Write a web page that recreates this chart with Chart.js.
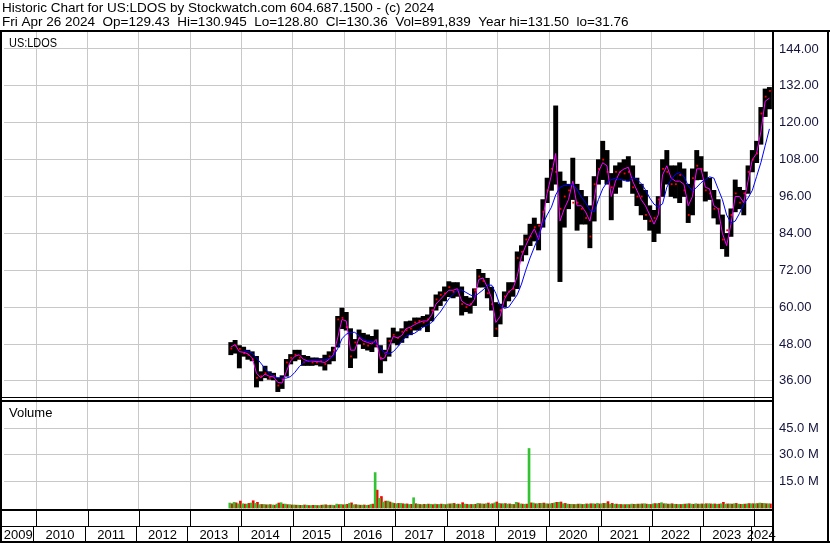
<!DOCTYPE html>
<html>
<head>
<meta charset="utf-8">
<script src="https://cdn.jsdelivr.net/npm/chart.js@4.4.1/dist/chart.umd.min.js"></script>
<style>
  html, body { margin: 0; padding: 0; background: #fff; overflow: hidden; }
  #wrap { position: relative; width: 830px; height: 543px; }
</style>
</head>
<body>
<div id="wrap"><canvas id="chart" width="830" height="543"></canvas></div>
<script>
// ==============================
// data (monthly, Oct 2013 .. Apr 2024)
// ==============================
const headerLines = [
  "Historic Chart for US:LDOS by Stockwatch.com 604.687.1500 - (c) 2024",
  "Fri Apr 26 2024  Op=129.43  Hi=130.945  Lo=128.80  Cl=130.36  Vol=891,839  Year hi=131.50  lo=31.76",
];
const symbolLabel = "US:LDOS";
const volumeLabel = "Volume";

const firstYear = 2013;
const firstMonth = 10; // October 2013

const yearLabels = ["2009", "2010", "2011", "2012", "2013", "2014", "2015", "2016",
  "2017", "2018", "2019", "2020", "2021", "2022", "2023", "2024"];
const priceTicks = [36, 42, 48, 54, 60, 66, 72, 78, 84, 90, 96, 102, 108, 114, 120, 126, 132, 138, 144];
const volumeTicks = [15, 30, 45];

const high = [
  48.5, 49.2, 47.5,
  47.0, 46.0, 45.5, 44.0, 39.0, 40.8, 39.0, 38.5, 37.0, 37.7, 43.0, 44.6,
  46.0, 46.0, 44.3, 44.0, 43.5, 43.5, 43.3, 44.4, 45.5, 47.0, 57.0, 59.7,
  58.3, 53.0, 49.5, 52.6, 51.5, 51.0, 50.5, 52.6, 47.5, 46.0, 50.0, 53.2,
  52.0, 53.0, 55.3, 55.5, 56.5, 56.5, 57.0, 57.5, 60.0, 64.0, 65.0, 66.6,
  68.3, 68.0, 68.0, 66.6, 63.5, 63.0, 66.0, 72.3, 71.0, 69.4, 66.5, 61.5,
  61.0, 65.0, 68.0, 68.0, 78.0, 80.0, 83.5, 87.0, 89.0, 87.0, 95.0, 102.0,
  108.0, 125.5, 104.0, 101.0, 100.0, 108.5, 100.0, 98.0, 96.0, 93.0, 102.5, 108.0,
  114.0, 111.0, 103.5, 106.0, 107.0, 108.0, 109.0, 106.0, 102.0, 100.0, 98.0, 93.0,
  91.5, 96.0, 108.0, 111.0, 106.0, 106.0, 107.0, 105.0, 100.0, 105.0, 111.0, 109.0,
  104.0, 102.0, 98.0, 95.0, 90.0, 84.0, 92.0, 101.4, 99.0, 98.0, 106.0, 111.0,
  114.0, 125.0, 131.0, 131.5,
];
const low = [
  44.5, 45.0, 40.2,
  44.0, 43.0, 42.5, 34.0, 36.0, 37.0, 36.5, 36.3, 32.5, 33.5, 37.5, 41.5,
  42.5, 43.0, 41.0, 41.0, 41.0, 41.2, 40.8, 39.5, 41.5, 42.5, 47.0, 53.0,
  52.5, 40.3, 43.4, 48.0, 46.5, 46.0, 45.5, 47.0, 38.6, 42.5, 44.0, 48.3,
  47.7, 48.5, 50.0, 51.0, 52.5, 52.5, 53.6, 52.0, 55.5, 59.0, 60.5, 62.0,
  63.4, 63.0, 63.5, 57.4, 58.5, 58.0, 60.5, 66.5, 66.5, 63.0, 59.0, 50.4,
  54.5, 60.0, 62.0, 63.5, 66.0, 75.0, 77.0, 80.0, 81.5, 78.6, 86.0, 94.0,
  98.0, 100.0, 68.3, 86.0, 92.0, 95.0, 85.0, 87.0, 87.0, 79.3, 88.0, 100.0,
  101.5, 100.0, 88.4, 97.0, 99.0, 101.5, 101.0, 97.0, 93.0, 90.0, 88.5, 85.0,
  81.3, 84.0, 96.0, 100.0, 96.0, 95.5, 94.0, 96.0, 87.5, 90.0, 101.4, 101.5,
  94.5, 95.0, 89.0, 87.0, 79.0, 76.5, 83.0, 91.0, 92.0, 90.0, 97.0, 104.0,
  107.0, 113.0, 122.0, 124.5,
];
// month-end close (red tick)
const close = [
  46.5, 47.5, 46.4,
  45.0, 44.5, 43.0, 37.0, 37.5, 38.5, 37.0, 37.5, 34.5, 36.5, 42.0, 43.5,
  44.5, 43.5, 42.0, 42.5, 42.0, 42.0, 42.5, 41.5, 44.0, 46.0, 56.0, 56.5,
  53.5, 44.0, 48.5, 50.0, 48.0, 47.5, 48.5, 47.5, 43.5, 45.0, 49.0, 51.0,
  50.0, 52.0, 52.5, 53.0, 55.0, 55.5, 55.0, 56.0, 59.0, 62.5, 64.0, 64.5,
  66.5, 65.0, 65.5, 61.0, 60.0, 61.0, 65.5, 70.0, 68.5, 64.5, 61.0, 53.0,
  59.0, 63.5, 65.0, 66.0, 76.0, 78.0, 82.0, 83.0, 86.0, 86.5, 91.0, 98.0,
  105.0, 104.0, 92.0, 96.0, 98.0, 94.0, 94.0, 92.0, 89.0, 83.0, 100.0, 105.0,
  108.0, 104.0, 99.0, 104.0, 104.0, 103.5, 104.0, 99.0, 96.0, 96.0, 90.0, 88.0,
  89.0, 95.0, 105.0, 104.0, 100.0, 100.0, 103.0, 98.0, 90.0, 102.0, 106.0, 105.0,
  98.0, 97.0, 92.0, 92.0, 82.0, 85.0, 90.0, 97.0, 94.0, 97.0, 104.0, 108.0,
  110.0, 123.0, 128.5, 130.36,
];
const maShort = [
  47.0, 47.8, 45.5,
  45.3, 44.8, 43.5, 38.5, 37.0, 38.2, 37.5, 37.3, 35.5, 35.3, 39.0, 42.5,
  44.0, 44.5, 43.0, 42.5, 42.5, 42.3, 42.2, 42.0, 43.0, 44.5, 50.0, 56.0,
  55.5, 46.0, 46.0, 50.0, 49.0, 48.5, 48.0, 49.5, 43.0, 43.5, 47.0, 50.5,
  50.0, 50.8, 53.0, 53.5, 54.3, 55.0, 55.5, 55.5, 57.5, 61.0, 62.5, 64.0,
  65.5, 65.5, 66.0, 62.0, 61.0, 60.5, 62.5, 69.0, 69.5, 66.5, 63.0, 55.0,
  57.0, 62.5, 65.0, 66.0, 70.0, 76.5, 80.0, 83.0, 85.5, 82.0, 89.0, 97.0,
  103.0, 110.0, 88.0, 92.0, 95.0, 101.0, 93.0, 93.0, 91.0, 88.0, 95.0, 104.0,
  107.0, 106.0, 96.0, 101.0, 104.0, 105.0, 105.5, 101.0, 98.0, 95.0, 93.0, 90.0,
  87.0, 90.0, 103.0, 106.0, 102.0, 101.0, 101.0, 100.0, 93.0, 96.0, 105.0, 105.0,
  99.0, 98.5, 93.0, 92.0, 84.0, 80.0, 87.0, 96.0, 96.0, 94.0, 101.0, 108.0,
  110.0, 117.0, 127.0, 128.0,
];
const maLong = [
  null, null, null,
  45.8, 45.6, 45.0, 43.5, 41.8, 40.0, 38.5, 37.6, 37.0, 36.9, 36.9, 37.4,
  38.8, 40.6, 42.0, 42.5, 42.8, 42.8, 42.8, 42.8, 43.3, 44.0, 46.5, 49.7,
  51.2, 51.8, 51.8, 50.6, 49.5, 48.9, 48.8, 48.3, 46.8, 45.0, 44.8, 45.5,
  47.0, 48.8, 50.5, 51.2, 51.5, 52.5, 53.5, 54.2, 55.0, 56.8, 58.4, 60.5,
  62.7, 64.2, 65.5, 65.6, 64.8, 64.0, 63.4, 64.5, 65.6, 67.0, 67.2, 64.5,
  60.5, 59.6, 60.0, 62.0, 64.0, 67.5, 72.0, 76.0, 79.5, 83.0, 87.0, 90.0,
  92.5, 96.5, 99.0, 99.6, 99.8, 100.0, 98.3, 95.8, 94.0, 91.5, 91.0, 95.0,
  98.5, 100.6, 101.5, 101.9, 101.6, 101.2, 101.0, 102.2, 101.6, 100.2, 98.2, 95.5,
  93.5, 92.6, 93.6, 99.0, 101.5, 103.2, 103.8, 102.5, 99.5, 97.8, 99.0, 100.5,
  101.5, 102.4, 102.0, 98.5, 95.0, 90.0, 87.4, 88.0, 90.5, 93.5, 95.5, 98.0,
  102.5, 107.0, 112.5, 118.0,
];
// volume in millions (largest up-day / down-day of each month)
const volumeUp = [
  2.8, 3.2, 2.4,
  2.4, 2.2, 2.8, 2.6, 1.9, 2.0, 1.8, 1.7, 2.2, 3.0, 2.2, 1.9,
  1.7, 1.6, 1.5, 1.6, 1.4, 1.5, 1.4, 1.7, 1.5, 1.6, 2.2, 2.0,
  1.9, 2.6, 1.8, 1.7, 1.6, 1.5, 2.0, 20.0, 5.5, 3.4, 3.9, 2.9,
  2.4, 2.6, 2.2, 2.0, 5.8, 2.2, 1.9, 2.0, 2.1, 2.2, 2.0, 2.1,
  2.2, 2.4, 2.1, 2.0, 2.2, 1.9, 2.0, 2.6, 2.3, 2.4, 2.2, 2.9,
  2.6, 2.4, 2.2, 2.1, 3.2, 2.3, 2.1, 33.6, 2.8, 2.4, 2.6, 2.4,
  2.4, 2.9, 3.2, 2.4, 2.2, 2.1, 2.0, 2.2, 2.1, 2.2, 2.4, 2.6,
  2.4, 2.6, 2.2, 2.1, 2.0, 1.9, 2.0, 2.2, 2.1, 2.2, 2.4, 2.1,
  2.3, 2.4, 3.0, 2.4, 2.2, 2.1, 2.0, 2.1, 2.3, 2.2, 2.4, 2.2,
  2.2, 2.4, 2.2, 2.1, 2.4, 2.2, 2.3, 2.4, 2.2, 2.1, 2.3, 2.4,
  2.4, 2.8, 2.6, 2.4,
];
const volumeDown = [
  2.4, 2.9, 3.9,
  2.2, 2.6, 4.1, 3.2, 2.0, 1.8, 1.9, 1.6, 2.8, 2.2, 1.9, 1.7,
  1.6, 1.5, 1.7, 1.4, 1.5, 1.4, 1.6, 1.8, 1.6, 1.4, 1.9, 1.8,
  2.1, 2.9, 1.9, 1.6, 1.7, 1.6, 2.2, 10.1, 6.5, 3.9, 3.4, 2.6,
  2.6, 2.4, 2.3, 2.1, 2.4, 2.0, 2.1, 2.2, 1.9, 2.0, 2.2, 1.9,
  2.3, 2.6, 2.2, 3.0, 2.1, 2.0, 2.1, 2.4, 2.2, 2.8, 2.4, 3.4,
  2.4, 2.5, 2.3, 2.0, 2.9, 2.2, 2.2, 2.9, 2.4, 2.6, 2.8, 2.3,
  2.6, 3.2, 3.4, 2.6, 2.1, 2.0, 2.2, 2.0, 2.3, 2.4, 2.2, 2.3,
  2.6, 3.6, 2.6, 2.2, 2.0, 1.9, 1.9, 2.1, 2.2, 2.3, 2.2, 2.0,
  2.5, 2.6, 2.4, 2.2, 2.4, 2.1, 2.0, 2.2, 2.4, 2.1, 2.2, 2.3,
  2.4, 2.3, 2.3, 2.2, 3.2, 2.3, 2.2, 2.6, 2.1, 2.2, 2.5, 2.4,
  2.5, 2.6, 2.4, 2.3,
];

// ==============================
// helpers
// ==============================
// month index -> decimal year at mid-month
function monthPos(i) {
  return firstYear + (firstMonth - 1 + i + 0.5) / 12;
}
const pts = (arr) => arr.map((v, i) => ({ x: monthPos(i), y: v }));

const FAMILY = "'Liberation Sans', Arial, sans-serif";
const X_MIN = 2009.37;
const X_MAX = 2024.342;

// ==============================
// frame plugin
// ==============================
const framePlugin = {
  id: "frame",

  beforeDraw(chart) {
    const ctx = chart.ctx;
    ctx.save();
    ctx.fillStyle = "#fff";
    ctx.fillRect(0, 0, chart.width, chart.height);
    ctx.restore();
  },

  afterDraw(chart) {
    const ctx = chart.ctx;
    const xs = chart.scales.x;
    const { right, top, bottom } = chart.chartArea;
    const volTop = chart.scales.yVol.top;

    ctx.save();
    ctx.fillStyle = "#000";
    ctx.textBaseline = "alphabetic";
    ctx.textAlign = "left";

    // header
    ctx.font = "13.5px " + FAMILY;
    ctx.fillText(headerLines[0], 2, 12);
    ctx.fillText(headerLines[1], 2, 26);

    // -------------------------
    // frame lines
    // -------------------------
    ctx.fillRect(0, top - 2, chart.width, 2);
    ctx.fillRect(0, top - 2, 2, chart.height - top + 2);
    ctx.fillRect(right, top - 2, 2, chart.height - top + 2);
    ctx.fillRect(chart.width - 3, top - 2, 2, chart.height - top + 2);
    ctx.fillRect(0, volTop - 3, right, 1);
    ctx.fillRect(0, volTop, right, 2);
    ctx.fillRect(0, bottom, right + 2, 2);
    ctx.fillRect(0, bottom + 17, right + 2, 1);
    ctx.fillRect(0, chart.height - 2, chart.width, 2);

    // -------------------------
    // year band
    // -------------------------
    for (let y = 2010; y <= 2024; y++) {
      const px = Math.round(xs.getPixelForValue(y));
      ctx.fillRect(px, bottom + 2, 1, 15);
      ctx.fillRect(px - 3, bottom + 18, 1, chart.height - bottom - 20);
    }

    ctx.font = "13px " + FAMILY;
    ctx.textAlign = "center";
    yearLabels.forEach((lab, i) => {
      const y0 = Math.max(X_MIN, 2009 + i);
      const y1 = Math.min(X_MAX, 2010 + i);
      const cx = (xs.getPixelForValue(y0) + xs.getPixelForValue(y1)) / 2 - 2;
      ctx.fillText(lab, cx, chart.height - 4);
    });

    // panel labels
    ctx.textAlign = "left";
    ctx.save();
    ctx.translate(9, top + 15);
    ctx.scale(0.84, 1);
    ctx.fillText(symbolLabel, 0, 0);
    ctx.restore();
    ctx.fillText(volumeLabel, 9, volTop + 17);

    ctx.restore();
  },
};

// ==============================
// create
// ==============================
const gridColor = "#c8c8c8";
const tickColor = "#14143c";
const tickFont = { family: FAMILY, size: 13 };

new Chart(document.getElementById("chart"), {
  type: "bar",
  data: {
    datasets: [
      {
        type: "line",
        data: pts(maLong),
        yAxisID: "yPrice",
        borderColor: "#0000ff",
        borderWidth: 1,
        pointRadius: 0,
        tension: 0,
        order: 0,
      },
      {
        type: "line",
        data: pts(maShort),
        yAxisID: "yPrice",
        borderColor: "#ff00ff",
        borderWidth: 1,
        pointRadius: 0,
        tension: 0,
        order: 1,
      },
      {
        type: "scatter",
        data: close.map((c, i) => ({ x: monthPos(i) + 0.01, y: c })),
        yAxisID: "yPrice",
        pointStyle: "rect",
        pointRadius: 1.3,
        pointBorderWidth: 0,
        backgroundColor: "#ff0000",
        order: 2,
      },
      {
        data: high.map((h, i) => ({ x: monthPos(i), y: [low[i], h] })),
        yAxisID: "yPrice",
        backgroundColor: "#000",
        grouped: false,
        categoryPercentage: 1,
        barPercentage: 1,
        order: 3,
      },
      {
        data: pts(volumeUp),
        yAxisID: "yVol",
        backgroundColor: "#33c233",
        barThickness: 2,
        order: 4,
      },
      {
        data: pts(volumeDown),
        yAxisID: "yVol",
        backgroundColor: "#ff0000",
        barThickness: 2,
        order: 5,
      },
    ],
  },

  options: {
    responsive: false,
    animation: false,
    devicePixelRatio: 1,
    events: [],

    layout: {
      padding: { left: 2, top: 32, right: 0, bottom: 0 },
    },

    plugins: {
      legend: { display: false },
      tooltip: { enabled: false },
    },

    scales: {
      x: {
        type: "linear",
        offset: false,
        min: X_MIN,
        max: X_MAX,
        afterBuildTicks(scale) {
          const t = [];
          for (let y = 2010; y <= 2024; y++) t.push({ value: y });
          scale.ticks = t;
        },
        afterFit(scale) {
          scale.height = 34;
        },
        ticks: { display: false },
        grid: { color: gridColor, drawTicks: false, offset: false },
        border: { display: false },
      },
      yPrice: {
        type: "linear",
        position: "right",
        stack: "panels",
        stackWeight: 368,
        min: 29.78,
        max: 149.53,
        afterBuildTicks(scale) {
          scale.ticks = priceTicks.map((v) => ({ value: v }));
        },
        afterFit(scale) {
          scale.width = 58;
        },
        ticks: {
          color: tickColor,
          font: tickFont,
          padding: 7,
          callback: (v) => Number(v).toFixed(2),
        },
        grid: { color: gridColor, drawTicks: false },
        border: { display: false },
      },
      yVol: {
        type: "linear",
        position: "right",
        stack: "panels",
        stackWeight: 109,
        min: -0.565,
        max: 60.98,
        afterBuildTicks(scale) {
          scale.ticks = volumeTicks.map((v) => ({ value: v }));
        },
        afterFit(scale) {
          scale.width = 58;
        },
        ticks: {
          color: tickColor,
          font: tickFont,
          padding: 7,
          callback: (v) => Number(v).toFixed(1) + " M",
        },
        grid: { color: gridColor, drawTicks: false },
        border: { display: false },
      },
    },
  },

  plugins: [framePlugin],
});
</script>
</body>
</html>
